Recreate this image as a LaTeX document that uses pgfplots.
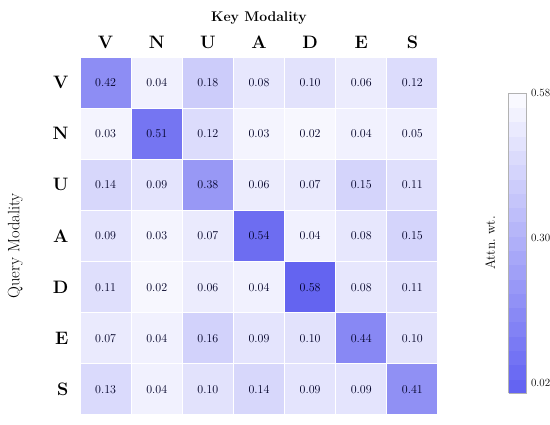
\documentclass[border=0pt]{standalone}
\usepackage{pgfplots}
\usepackage{pgfplotstable}
\pgfplotsset{compat=1.18}

% attention matrix: rows = query, cols = key (V N U A D E S)
\pgfplotstableread{
x y v
0 0 0.42
1 0 0.04
2 0 0.18
3 0 0.08
4 0 0.10
5 0 0.06
6 0 0.12
0 1 0.03
1 1 0.51
2 1 0.12
3 1 0.03
4 1 0.02
5 1 0.04
6 1 0.05
0 2 0.14
1 2 0.09
2 2 0.38
3 2 0.06
4 2 0.07
5 2 0.15
6 2 0.11
0 3 0.09
1 3 0.03
2 3 0.07
3 3 0.54
4 3 0.04
5 3 0.08
6 3 0.15
0 4 0.11
1 4 0.02
2 4 0.06
3 4 0.04
4 4 0.58
5 4 0.08
6 4 0.11
0 5 0.07
1 5 0.04
2 5 0.16
3 5 0.09
4 5 0.10
5 5 0.44
6 5 0.10
0 6 0.13
1 6 0.04
2 6 0.10
3 6 0.14
4 6 0.09
5 6 0.09
6 6 0.41
}\attn

\begin{document}
\begin{tikzpicture}
\path[use as bounding box] (0,0) rectangle (550pt,425pt);
\begin{axis}[
  at={(80pt,10pt)}, anchor=south west,
  scale only axis, width=358pt, height=358pt,
  xmin=-0.5, xmax=6.5, ymin=-0.5, ymax=6.5,
  y dir=reverse,
  axis line style={draw=none},
  major tick length=0pt,
  xtick={0,...,6}, ytick={0,...,6},
  xticklabels={V,N,U,A,D,E,S},
  yticklabels={V,N,U,A,D,E,S},
  xticklabel pos=top,
  xticklabel style={font=\fontsize{18}{21}\selectfont\bfseries, yshift=5pt},
  yticklabel style={font=\fontsize{18}{21}\selectfont\bfseries, xshift=-8pt},
  xlabel={Key Modality},
  xlabel style={font=\fontsize{14}{16}\selectfont\bfseries, yshift=5pt},
  ylabel={Query Modality},
  ylabel style={font=\fontsize{16.5}{19}\selectfont, at={(axis description cs:-0.15,0.472)}, anchor=south},
  colormap={attn}{rgb255=(252,252,255) rgb255=(100,100,240)},
  point meta min=0, point meta max=0.58,
  colorbar sampled,
  colorbar style={
    colormap={attnrev}{rgb255=(96,96,242) rgb255=(252,252,255)},
    samples=22,
    at={(parent axis.south east)}, anchor=south west,
    xshift=62pt, yshift=22pt,
    width=18pt, height=300pt,
    axis line style={draw=gray!60, line width=0.6pt},
    major tick length=0pt,
    ytick={0.02,0.30,0.58},
    yticklabels={0.02,0.30,0.58},
    yticklabel style={font=\fontsize{11}{13}\selectfont, xshift=1pt},
    ylabel={Attn.\ wt.},
    ylabel style={font=\fontsize{13.5}{16}\selectfont, at={(axis description cs:-0.55,0.5)}, anchor=south},
  },
]
\addplot[matrix plot, shader=faceted, faceted color=white, line width=1.2pt,
  mesh/cols=7, point meta=explicit] table[x=x, y=y, meta=v] {\attn};
\addplot[only marks, mark=none, point meta=explicit,
  nodes near coords={\pgfmathprintnumber[fixed,fixed zerofill,precision=2]{\pgfplotspointmeta}},
  nodes near coords align={center},
  every node near coord/.append style={font=\fontsize{11.5}{13}\selectfont, text=black!85!blue}]
  table[x=x, y=y, meta=v] {\attn};
\end{axis}
\end{tikzpicture}
\end{document}
